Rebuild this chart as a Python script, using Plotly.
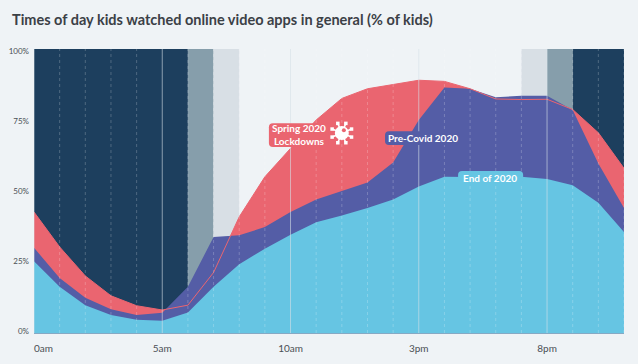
import math
import plotly.graph_objects as go

hours = list(range(24))
end_2020 = [25.3,16.3,9.8,6.3,4.7,4.3,7.2,16.3,24.2,29.7,34.6,39,41.4,44,47,51.6,55,54.8,54.8,55,54.2,52,45.9,35.6]
pre_covid = [30,19.4,12.4,8.4,6.3,7.1,16.3,33.8,34.4,37.3,42.6,47,50,53,60,75,86.4,86,83,83.5,83.5,78.5,59.7,44]
spring = [42.6,30.3,20.1,13.1,9.6,8.1,9.8,21.3,40.9,55,65,75,82.6,86,87.5,89,88.6,86,82.4,82.2,82.3,78.7,70.5,58]

x_tick_pos = [0.37,5,10,15,20]
x_tick_text = ["0am","5am","10am","3pm","8pm"]
y_tick_pos = [0.7,25.3,50,74.6,99.2]
y_tick_text = ["0%","25%","50%","75%","100%"]
solid_hours = [0,5,10,15,20]
dashed_hours = [h for h in hours if h not in solid_hours]
bands = [(0,6,"#1D3F5E"),(6,7,"#869EAB"),(7,8,"#D8DFE5"),(19,20,"#D8DFE5"),(20,21,"#869EAB"),(21,23,"#1D3F5E")]

RED="#EA6570"; PURPLE="#545DA6"; CYAN="#66C5E3"; BG="#EFF3F6"; TXT="#3B4046"
FONT="Lato"
PXX=25.63; PXY=2.846

fig = go.Figure()
for ys,c in [(spring,RED),(pre_covid,PURPLE),(end_2020,CYAN)]:
    fig.add_trace(go.Scatter(x=hours,y=ys,mode="lines",fill="tozeroy",fillcolor=c,line=dict(width=0),hoverinfo="skip"))
fig.add_trace(go.Scatter(x=hours,y=spring,mode="lines",line=dict(color=RED,width=1),hoverinfo="skip"))
for h in solid_hours:
    fig.add_trace(go.Scatter(x=[h,h],y=[0,100],mode="lines",line=dict(color="rgba(215,225,232,0.6)",width=1),hoverinfo="skip"))
for h in dashed_hours:
    fig.add_trace(go.Scatter(x=[h,h],y=[0,100],mode="lines",line=dict(color="rgba(255,255,255,0.22)",width=1,dash="3px,3px"),hoverinfo="skip"))

# virus icon: hub, eight spikes with knobs, and a small crescent-like spot
VX,VY=12.0,70.4
for i in range(8):
    a=math.radians(22.5+45*i)
    fig.add_trace(go.Scatter(x=[VX,VX+10.5*math.cos(a)/PXX],y=[VY,VY+10.5*math.sin(a)/PXY],mode="lines",
                             line=dict(color="white",width=1.6),hoverinfo="skip"))
    fig.add_trace(go.Scatter(x=[VX+10.5*math.cos(a)/PXX],y=[VY+10.5*math.sin(a)/PXY],mode="markers",
                             marker=dict(symbol="square",size=3.5,color="white"),hoverinfo="skip"))
fig.add_trace(go.Scatter(x=[VX],y=[VY],mode="markers",marker=dict(symbol="circle",size=14,color="white"),hoverinfo="skip"))
fig.add_trace(go.Scatter(x=[VX+0.08],y=[VY+1.0],mode="markers",marker=dict(symbol="circle",size=4,color=RED),hoverinfo="skip"))

shapes=[]
for a,b,c in bands:
    shapes.append(dict(type="rect",xref="x",yref="y",x0=a,x1=b,y0=0,y1=100,fillcolor=c,line=dict(width=0),layer="below"))

def box(px0,px1,py0,py1,c,r=4):
    X=lambda p:(p-34.3)/PXX
    Y=lambda p:(333.3-p)/PXY
    path=(f"M{X(px0+r)},{Y(py0)} L{X(px1-r)},{Y(py0)} Q{X(px1)},{Y(py0)} {X(px1)},{Y(py0+r)} "
          f"L{X(px1)},{Y(py1-r)} Q{X(px1)},{Y(py1)} {X(px1-r)},{Y(py1)} L{X(px0+r)},{Y(py1)} "
          f"Q{X(px0)},{Y(py1)} {X(px0)},{Y(py1-r)} L{X(px0)},{Y(py0+r)} Q{X(px0)},{Y(py0)} {X(px0+r)},{Y(py0)} Z")
    return dict(type="path",xref="x",yref="y",path=path,fillcolor=c,line=dict(width=0),layer="above")
shapes += [box(269,329,123,147,RED),box(385,459,131,145,PURPLE),box(458,523,171,184,CYAN)]

label=dict(family=FONT,size=10,color="white",weight="bold")
ann=[
 dict(x=(299-34.3)/PXX,y=(333.3-134.5)/PXY,text="Spring 2020<br>Lockdowns",showarrow=False,font=label,xanchor="center",yanchor="middle",align="center",xref="x",yref="y"),
 dict(x=(423-34.3)/PXX,y=(333.3-138)/PXY,text="Pre-Covid 2020",showarrow=False,font=label,xanchor="center",yanchor="middle",xref="x",yref="y"),
 dict(x=(490-34.3)/PXX,y=(333.3-177.5)/PXY,text="End of 2020",showarrow=False,font=label,xanchor="center",yanchor="middle",xref="x",yref="y"),
]

fig.update_layout(
    width=638,height=364,autosize=False,showlegend=False,
    paper_bgcolor=BG,plot_bgcolor=BG,
    margin=dict(l=34.3,r=14.3,t=48.7,b=30.7,pad=0),
    title=dict(text="<b>Times of day kids watched online video apps in general (% of kids)</b>",
               x=12/638,xref="container",xanchor="left",y=1-20/364,yref="container",yanchor="middle",
               font=dict(family=FONT,size=14.5,color=TXT)),
    xaxis=dict(range=[0,23],tickmode="array",tickvals=x_tick_pos,ticktext=x_tick_text,showgrid=False,zeroline=False,automargin=False,
               showline=True,linecolor="#86A9C4",linewidth=1,ticks="",tickfont=dict(family=FONT,size=10,color="#4A4F55"),ticklabelstandoff=6),
    yaxis=dict(range=[0,100],tickmode="array",tickvals=y_tick_pos,ticktext=y_tick_text,showgrid=False,zeroline=False,automargin=False,
               showline=False,ticks="",tickfont=dict(family=FONT,size=8,color="#4A4F55"),ticklabelstandoff=4),
    shapes=shapes,annotations=ann,
)
fig.write_html("out.html",post_script="document.body.style.margin='0';",config={"displayModeBar":False})
